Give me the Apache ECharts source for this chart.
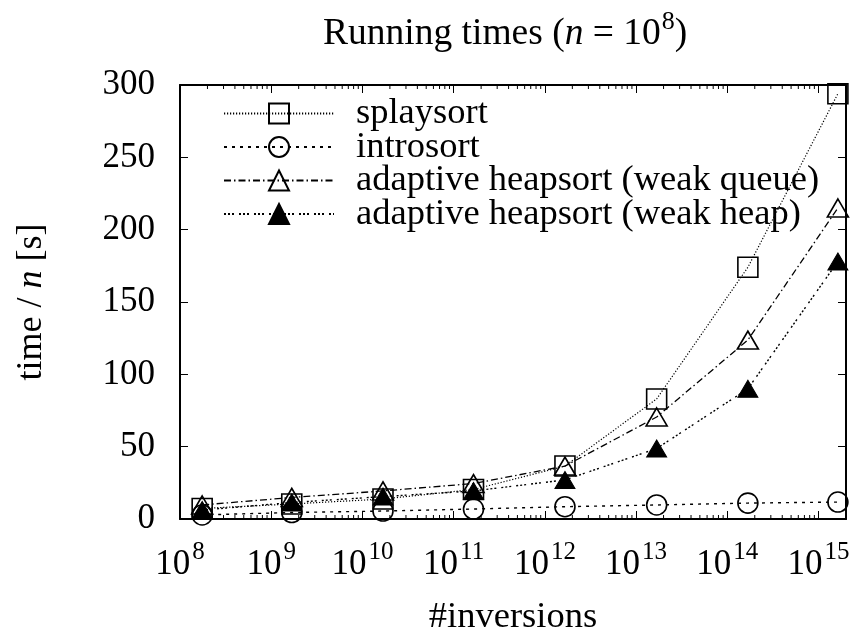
<!DOCTYPE html>
<html><head><meta charset="utf-8">
<script src="https://cdn.jsdelivr.net/npm/echarts@6/dist/echarts.min.js"></script>
<style>html,body{margin:0;padding:0;background:#fff}#c{width:854px;height:629px}</style>
</head><body><div id="c"></div>
<script>
const inversions = [1.75e8, 1.68e9, 1.68e10, 1.65e11, 1.66e12, 1.68e13, 1.68e14, 1.63e15];
const splaysort = [7.3, 10.4, 13.8, 20.4, 36.6, 83, 174, 294];
const introsort = [2.8, 4.5, 5.5, 6.9, 8.5, 9.7, 11, 11.7];
const weakQueue = [9.7, 14.9, 19.4, 24.5, 36.6, 70.5, 123.7, 215];
const weakHeap = [6.2, 11.4, 15.5, 19.4, 27, 48.7, 90, 178];
const seriesNames = ['splaysort', 'introsort', 'adaptive heapsort (weak queue)', 'adaptive heapsort (weak heap)'];
const yTicks = [0, 50, 100, 150, 200, 250, 300];
const xMin = 1e8, xMax = 2e15;

const FONT = '"Liberation Serif", "DejaVu Serif", serif';
const minorTicks = [];
for (let e = 8; e < 15; e++) for (let m = 2; m <= 9; m++) minorTicks.push([m * Math.pow(10, e), 0]);

function pairs(ys) { return inversions.map((x, i) => [x, ys[i]]); }

const supRich = {
  b: {fontFamily: FONT, fontSize: 35, fontWeight: 'normal', color: '#000', verticalAlign: 'bottom', lineHeight: 40},
  s: {fontFamily: FONT, fontSize: 25, fontWeight: 'normal', color: '#000', verticalAlign: 'bottom', lineHeight: 40, padding: [0, 0, 17, 2]}
};
function expLabel(v) {
  const l = Math.log10(v), e = Math.round(l);
  if (Math.abs(l - e) > 0.01) return '';
  return '{b|10}{s|' + e + '}';
}

const chart = echarts.init(document.getElementById('c'), null, {renderer: 'canvas'});
const common = {type: 'line', clip: false, showSymbol: true, z: 3};
const tickStyle = {show: true, inside: true, length: 8, lineStyle: {color: '#000', width: 1}};
chart.setOption({
  animation: false,
  backgroundColor: '#fff',
  title: {
    text: '{a|Running times (}{i|n}{a| = 10}{s|8}{a|)}',
    left: 323, top: 9, padding: 0,
    textStyle: {fontWeight: 'normal', rich: {
      a: {fontFamily: FONT, fontSize: 37.5, fontWeight: 'normal', color: '#000', verticalAlign: 'bottom', lineHeight: 44},
      i: {fontFamily: FONT, fontSize: 37.5, fontWeight: 'normal', fontStyle: 'italic', color: '#000', verticalAlign: 'bottom', lineHeight: 44},
      s: {fontFamily: FONT, fontSize: 26, fontWeight: 'normal', color: '#000', verticalAlign: 'bottom', lineHeight: 44, padding: [0, 0, 18, 1]}
    }}
  },
  grid: {left: 180, right: 8, top: 85, bottom: 110, containLabel: false, outerBoundsMode: 'none'},
  legend: {
    orient: 'vertical', left: 223, top: 95, padding: 0, itemGap: -3.5,
    itemWidth: 110, itemHeight: 25,
    data: seriesNames,
    textStyle: {fontFamily: FONT, fontSize: 36.5, color: '#000', padding: [0, 0, 0, 17]}
  },
  xAxis: [{
    type: 'log', logBase: 10, min: xMin, max: xMax, splitNumber: 7,
    position: 'bottom',
    name: '#inversions', nameLocation: 'middle', nameGap: 80,
    nameTextStyle: {fontFamily: FONT, fontSize: 36.5, color: '#000'},
    axisLine: {show: true, onZero: false, lineStyle: {color: '#000', width: 2}},
    axisTick: tickStyle,
    axisLabel: {margin: 23, interval: 0, hideOverlap: false, showMaxLabel: false, showMinLabel: true,
      formatter: expLabel, rich: supRich},
    splitLine: {show: false}
  }, {
    type: 'log', logBase: 10, min: xMin, max: xMax, splitNumber: 7,
    position: 'top',
    axisLine: {show: true, onZero: false, lineStyle: {color: '#000', width: 2}},
    axisTick: tickStyle,
    axisLabel: {show: false}, splitLine: {show: false}
  }],
  yAxis: [{
    type: 'value', min: yTicks[0], max: yTicks[yTicks.length - 1], interval: 50,
    name: '{a|time / }{i|n}{a| [s]}', nameLocation: 'middle', nameRotate: 90, nameGap: 130,
    nameTextStyle: {rich: {
      a: {fontFamily: FONT, fontSize: 36, color: '#000'},
      i: {fontFamily: FONT, fontSize: 36, fontStyle: 'italic', color: '#000'}
    }},
    axisLine: {show: true, lineStyle: {color: '#000', width: 2}},
    axisTick: tickStyle,
    axisLabel: {margin: 25, fontFamily: FONT, fontSize: 35, color: '#000'},
    splitLine: {show: false}
  }, {
    type: 'value', min: yTicks[0], max: yTicks[yTicks.length - 1], interval: 50, position: 'right',
    axisLine: {show: true, lineStyle: {color: '#000', width: 2}},
    axisTick: tickStyle,
    axisLabel: {show: false}, splitLine: {show: false}
  }],
  series: [
    Object.assign({}, common, {
      name: seriesNames[0], data: pairs(splaysort), symbol: 'rect', symbolSize: 20,
      lineStyle: {color: '#000', width: 1.2, type: [1.2, 1.8]},
      itemStyle: {color: 'rgba(0,0,0,0)', borderColor: '#000', borderWidth: 1.6}
    }),
    Object.assign({}, common, {
      name: seriesNames[1], data: pairs(introsort), symbol: 'circle', symbolSize: 20,
      lineStyle: {color: '#000', width: 1.4, type: [3, 5]},
      itemStyle: {color: 'rgba(0,0,0,0)', borderColor: '#000', borderWidth: 1.6}
    }),
    Object.assign({}, common, {
      name: seriesNames[2], data: pairs(weakQueue), symbol: 'triangle', symbolSize: [21, 18],
      lineStyle: {color: '#000', width: 1.3, type: [7, 3, 1.5, 3]},
      itemStyle: {color: 'rgba(0,0,0,0)', borderColor: '#000', borderWidth: 1.6}
    }),
    Object.assign({}, common, {
      name: seriesNames[3], data: pairs(weakHeap), symbol: 'triangle', symbolSize: [20, 17],
      lineStyle: {color: '#000', width: 1.4, type: [2, 2, 2, 2, 2, 5]},
      itemStyle: {color: '#000', borderColor: '#000', borderWidth: 1}
    }),
    {
      type: 'custom', silent: true, xAxisIndex: 0, yAxisIndex: 0, data: minorTicks, z: 2,
      renderItem: function (params, api) {
        const x = api.coord([api.value(0), 0])[0];
        const cs = params.coordSys;
        return {type: 'group', children: [
          {type: 'line', shape: {x1: x, y1: cs.y + cs.height, x2: x, y2: cs.y + cs.height - 4}, style: {stroke: '#000', lineWidth: 1}},
          {type: 'line', shape: {x1: x, y1: cs.y, x2: x, y2: cs.y + 4}, style: {stroke: '#000', lineWidth: 1}}
        ]};
      }
    }
  ]
});
</script></body></html>
